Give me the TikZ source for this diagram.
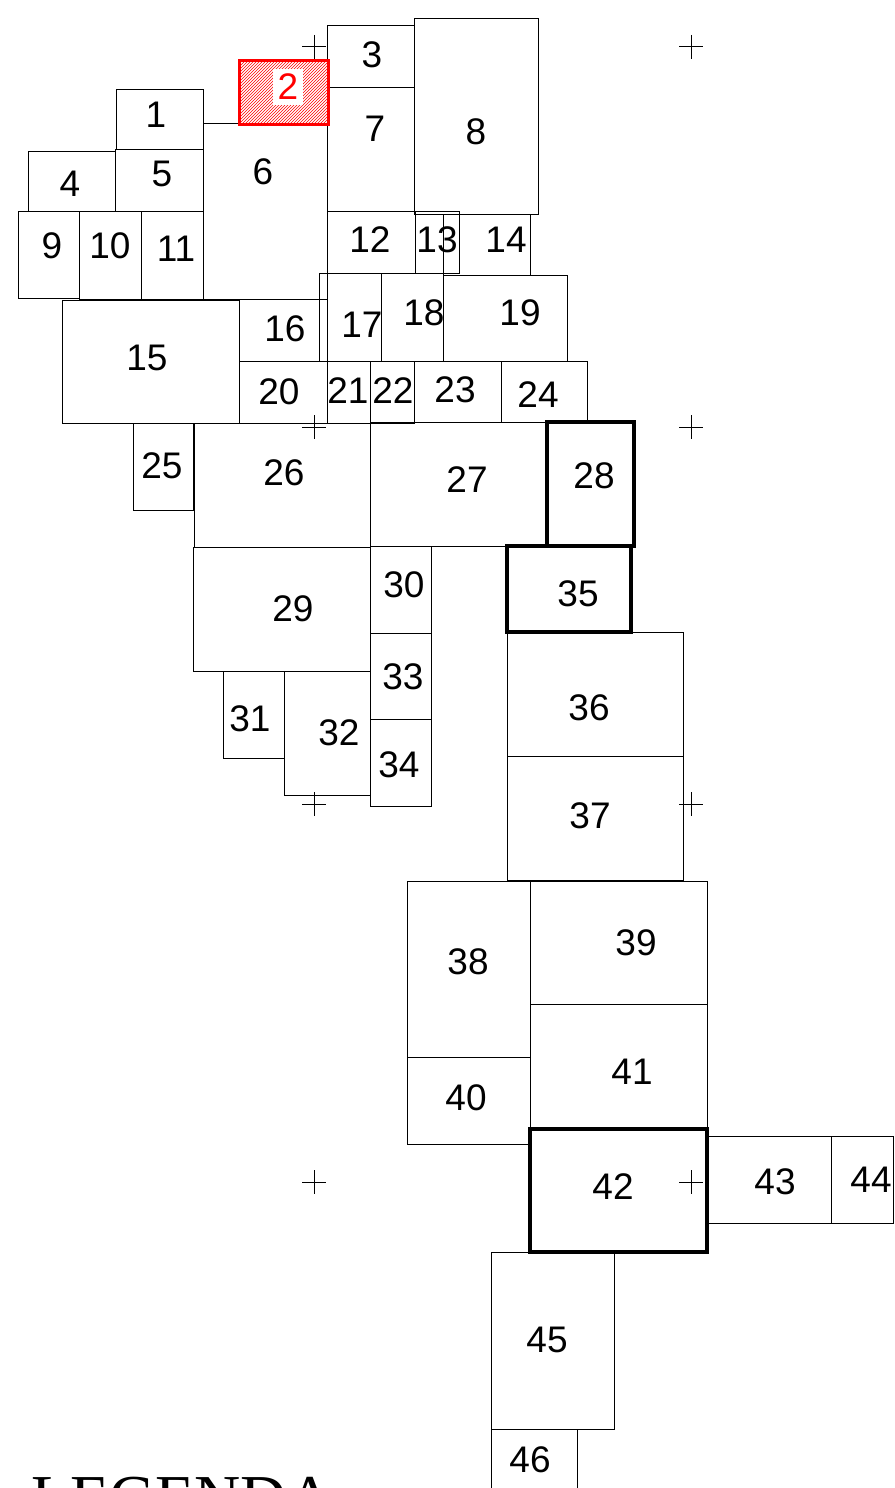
\documentclass[tikz,border=0pt]{standalone}
\usepackage{fontspec}
\setmainfont{Liberation Sans}
\newfontfamily\legendfont{Liberation Serif}
\usetikzlibrary{patterns}

\begin{document}
\begin{tikzpicture}[x=1pt,y=-1pt,
  sheetbox/.style={draw,line width=1pt},
  keybox/.style={draw,line width=3.2pt},
  selbox/.style={draw=red,line width=3pt,pattern=north east lines,pattern color=red},
  numlabel/.style={inner sep=0pt,font=\fontsize{37}{40}\selectfont},
  crossmark/.style={line width=1pt}]
  \useasboundingbox (0,0) rectangle (894,1488);
  % sheets: number / corners / label position
  \foreach \n/\ax/\ay/\bx/\by/\lx/\ly in {
    1/116/89/203/149/156/115, 3/327/26/414/87/372/55, 4/28/151/115/211/70/184,
    5/115/149/203/211/162/174, 6/203/123/327/299/263/172, 7/327/87/414/211/375/129,
    8/414/19/538/214/476/132, 9/18/211/79/298/52/246, 10/79/211/141/299/110/246,
    11/141/211/203/299/176/249, 12/327/211/415/273/370/240, 13/415/211/459/273/437/240,
    14/443/214/530/275/506/240, 15/62/300/239/423/147/358, 16/239/299/327/361/285/329,
    17/319/273/381/361/362/325, 18/381/273/443/361/424/313, 19/443/275/567/361/520/313,
    20/239/361/327/423/279/392, 21/327/361/370/423/348/391, 22/370/361/414/423/393/391,
    23/414/361/501/422/455/390, 24/501/361/587/422/538/395, 25/133/423/193/510/162/466,
    26/194/423/370/547/284/473, 27/370/422/547/546/467/480, 29/193/547/370/671/293/609,
    30/370/546/431/633/404/585, 31/223/671/284/758/250/719, 32/284/671/370/795/339/733,
    33/370/633/431/719/403/677, 34/370/719/431/806/399/765, 36/507/632/683/756/589/708,
    37/507/756/683/880/590/816, 38/407/881/530/1057/468/962, 39/530/881/707/1004/636/943,
    40/407/1057/530/1144/466/1098, 41/530/1004/707/1127/632/1072, 43/707/1136/831/1223/775/1182,
    44/831/1136/893/1223/871/1180, 45/491/1252/614/1429/547/1340, 46/491/1429/577/1500/530/1460}
  {
    \draw[sheetbox] (\ax,\ay) rectangle (\bx,\by);
    \node[numlabel] (s\n) at (\lx,\ly) {\n};
  }
  % highlighted sheets
  \foreach \n/\ax/\ay/\bx/\by/\lx/\ly in {28/547/422/634/546/594/476, 35/507/546/631/632/578/594,
    42/530/1129/707/1252/613/1187}
  {
    \draw[keybox] (\ax,\ay) rectangle (\bx,\by);
    \node[numlabel] (s\n) at (\lx,\ly) {\n};
  }
  \fill[white] (239,61) rectangle (328,124);
  \draw[selbox] (239,61) rectangle (328,124);
  \node[numlabel,fill=white,text=red,inner sep=5pt] (s2) at (288,87) {2};
  % grid crosses
  \foreach \cx in {314,691}
    \foreach \cy in {47,427,804,1182}
      \draw[crossmark] (\cx-12,\cy) -- (\cx+12,\cy) (\cx,\cy-12) -- (\cx,\cy+12);
  \node[anchor=base west,inner sep=0pt,font=\legendfont\fontsize{64}{70}\selectfont] (legend) at (31,1519) {LEGENDA};
\end{tikzpicture}
\end{document}
